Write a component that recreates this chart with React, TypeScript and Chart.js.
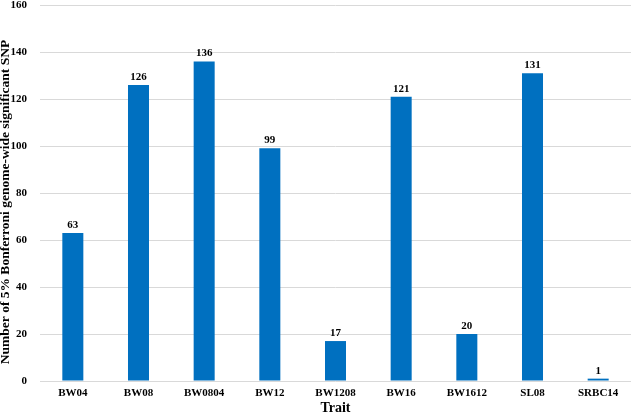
import React, { useEffect, useRef } from "react";
import { Chart, registerables } from "chart.js";

Chart.register(...registerables);

const categories = ["BW04", "BW08", "BW0804", "BW12", "BW1208", "BW16", "BW1612", "SL08", "SRBC14"];
const snpCounts = [63, 126, 136, 99, 17, 121, 20, 131, 1];
const yTicks = [0, 20, 40, 60, 80, 100, 120, 140, 160];
const yTitle = "Number of 5% Bonferroni genome-wide significant SNP";

const FONT = "'Liberation Serif', 'Times New Roman', serif";

const valueLabels = {
  id: "valueLabels",
  afterDatasetsDraw(chart: any) {
    const ctx = chart.ctx;
    const meta = chart.getDatasetMeta(0);
    ctx.save();
    ctx.font = `bold 11px ${FONT}`;
    ctx.fillStyle = "#000";
    ctx.textAlign = "center";
    ctx.textBaseline = "alphabetic";
    meta.data.forEach((bar: any, i: number) => {
      ctx.fillText(String(snpCounts[i]), bar.x, bar.y - 5);
    });
    ctx.restore();
  },
};

const yTitlePlugin = {
  id: "yTitlePlugin",
  afterDraw(chart: any) {
    const ctx = chart.ctx;
    ctx.save();
    ctx.font = `bold 13.5px ${FONT}`;
    ctx.fillStyle = "#000";
    ctx.textAlign = "center";
    ctx.textBaseline = "middle";
    ctx.translate(6, 202);
    ctx.rotate(-Math.PI / 2);
    ctx.fillText(yTitle, 0, 0);
    ctx.restore();
  },
};

export default function App() {
  const ref = useRef<HTMLCanvasElement>(null);
  useEffect(() => {
    document.body.style.margin = "0";
    const chart = new Chart(ref.current!, {
      type: "bar",
      data: {
        labels: categories,
        datasets: [
          {
            data: snpCounts,
            backgroundColor: "#0070C0",
            barPercentage: 0.32,
            categoryPercentage: 1,
          },
        ],
      },
      options: {
        responsive: false,
        animation: false,
        layout: { padding: { top: 5, right: 6, left: 0, bottom: 0 } },
        plugins: { legend: { display: false }, tooltip: { enabled: false } },
        scales: {
          x: {
            grid: { display: false, drawTicks: false },
            border: { display: false },
            ticks: { color: "#000", font: { family: FONT, size: 11, weight: "bold" }, padding: 6, maxRotation: 0 },
            title: { display: true, text: "Trait", color: "#000", font: { family: FONT, size: 14, weight: "bold" }, padding: { top: 0, bottom: -3 } },
            afterFit: (axis: any) => {
              axis.height = 33;
              axis.paddingLeft = 0;
              axis.paddingRight = 0;
            },
          },
          y: {
            min: 0,
            max: 160,
            afterBuildTicks: (axis: any) => {
              axis.ticks = yTicks.map((v) => ({ value: v }));
            },
            grid: { color: "#d9d9d9", drawTicks: false },
            border: { display: false },
            ticks: { color: "#000", font: { family: FONT, size: 11, weight: "bold" }, padding: 13 },
            title: { display: false },
            afterFit: (axis: any) => {
              axis.width = 40;
              axis.paddingTop = 0;
              axis.paddingBottom = 0;
            },
          },
        },
      },
      plugins: [valueLabels, yTitlePlugin],
    });
    return () => chart.destroy();
  }, []);
  return <canvas ref={ref} width={637} height={414} style={{ display: "block" }} />;
}
